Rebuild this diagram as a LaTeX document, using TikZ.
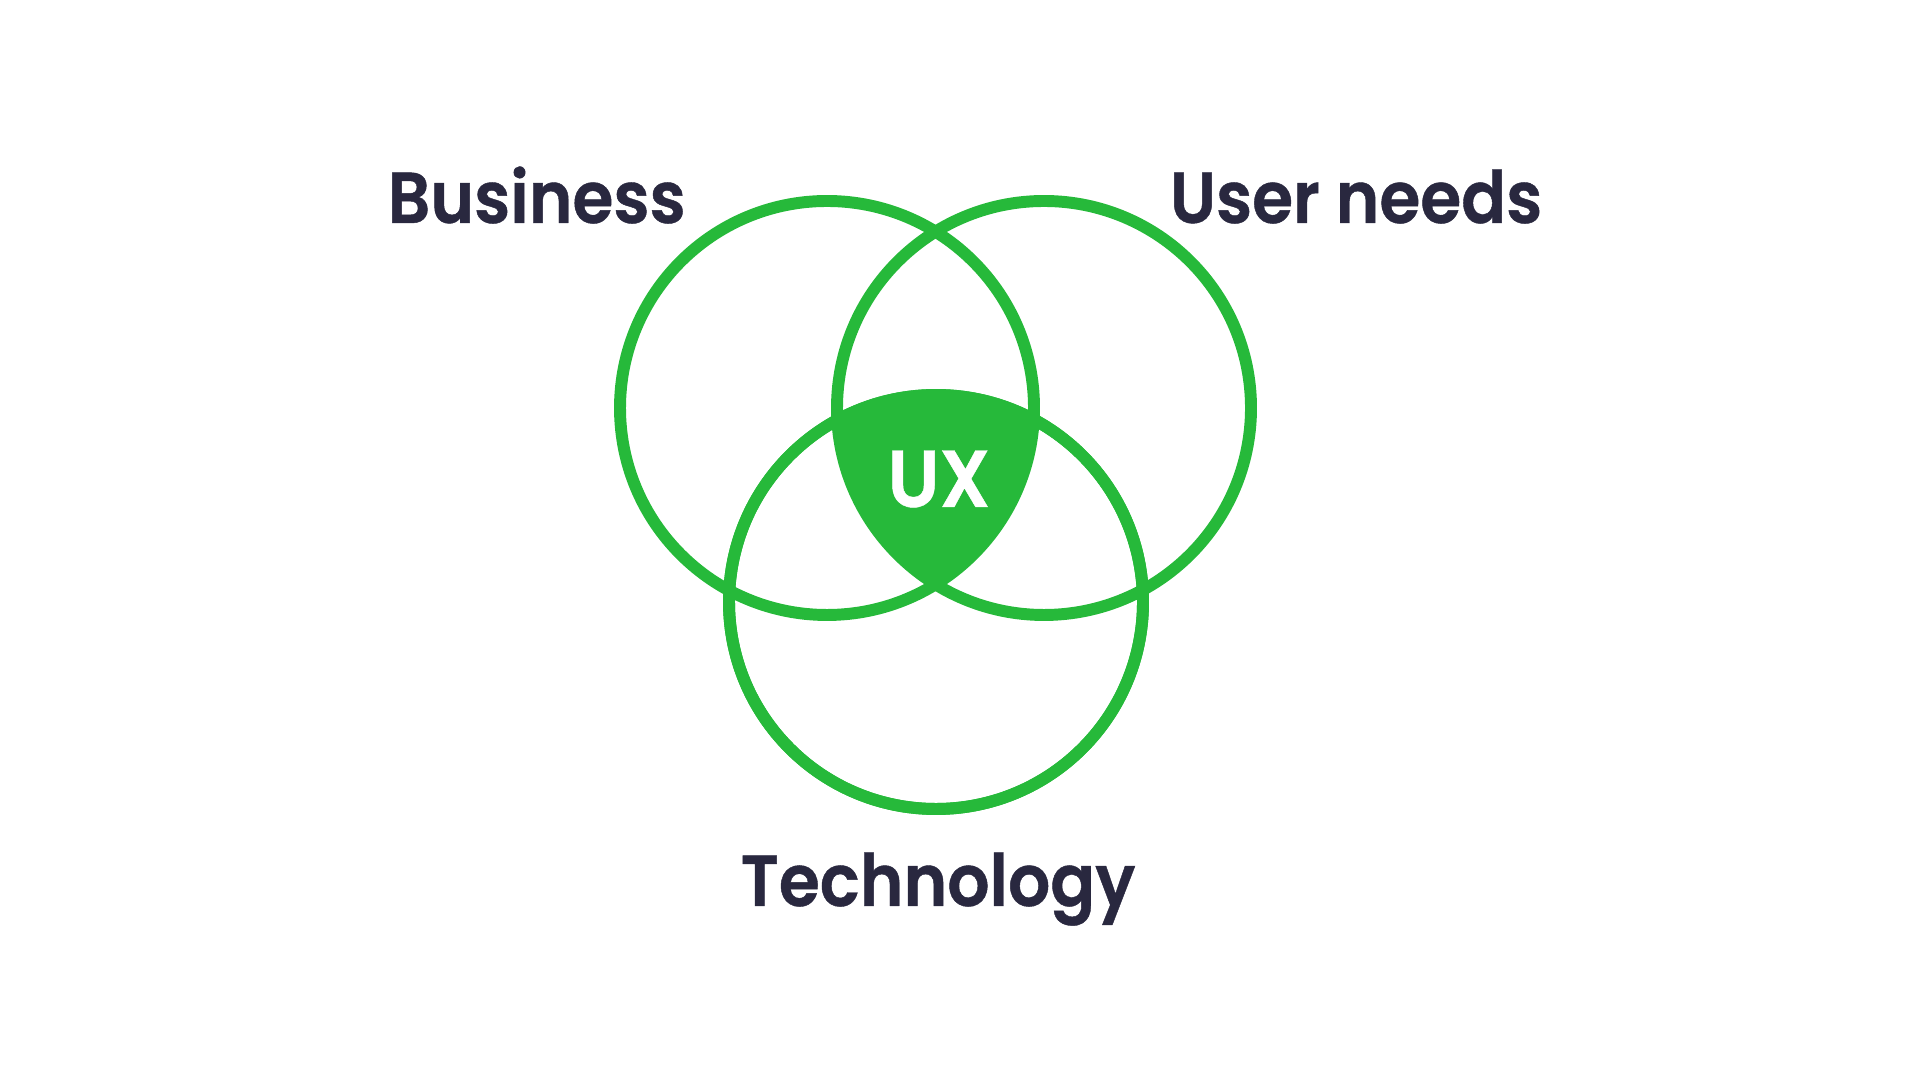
\documentclass[tikz,border=0pt]{standalone}
\usepackage{fontspec}
\setmainfont{Poppins}[BoldFont={Poppins SemiBold}, BoldFeatures={FakeBold=0.6}, FakeStretch=0.92]
\usepackage{xcolor}
\usepackage{tikz}
\usetikzlibrary{positioning}
\definecolor{venngreen}{RGB}{38, 185, 58}
\definecolor{labeltext}{RGB}{41, 40, 63}

\begin{document}
\begin{tikzpicture}[
    set/.style={draw=venngreen, line width=3.4pt, circle, minimum size=4.14cm, inner sep=0pt},
    label/.style={font=\fontsize{20.5}{24}\selectfont\bfseries, text=labeltext, inner sep=0pt},
    core/.style={font=\fontsize{23}{26}\selectfont\bfseries, text=white, inner sep=0pt}
]
    \useasboundingbox (0,0) rectangle (19.2,10.8);

    % Sets
    \node[set] (business) at (8.27,6.72) {};
    \node[set] (user) at (10.44,6.72) {};
    \node[set] (tech) at (9.36,4.78) {};

    % Common part
    \begin{scope}
        \clip (business.center) circle (2.07);
        \clip (user.center) circle (2.07);
        \fill[venngreen] (tech.center) circle (2.07);
    \end{scope}
    \node[set] at (tech.center) {};
    \node[core] (ux) at (9.39,6.01) {UX};

    % Labels
    \node[label, anchor=base west] (businesslabel) at (3.87,8.57) {Business};
    \node[label, anchor=base east] (userlabel) at (15.43,8.57) {User needs};
    \node[label, anchor=base] (techlabel) at (9.38,1.74) {Technology};
\end{tikzpicture}
\end{document}
